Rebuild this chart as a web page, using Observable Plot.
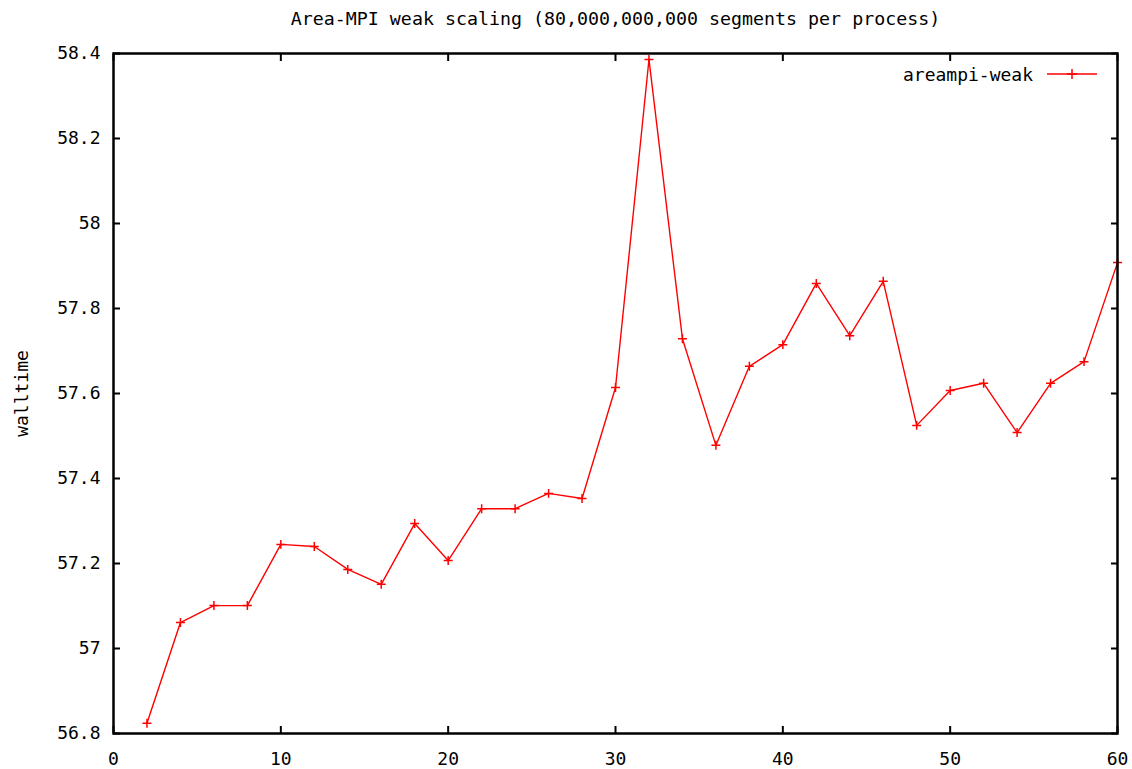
<!DOCTYPE html>
<html><head><meta charset="utf-8">
<script src="https://cdn.jsdelivr.net/npm/d3@7"></script>
<script src="https://cdn.jsdelivr.net/npm/@observablehq/plot@0.6"></script>
<style>body{margin:0;background:#fff}</style>
</head><body><div id="chart"></div>
<script>
const processes = [2,4,6,8,10,12,14,16,18,20,22,24,26,28,30,32,34,36,38,40,42,44,46,48,50,52,54,56,58,60];
const walltime = [56.824,57.061,57.101,57.101,57.245,57.240,57.186,57.151,57.294,57.207,57.329,57.329,57.365,57.353,57.614,58.386,57.729,57.478,57.664,57.715,57.859,57.736,57.864,57.525,57.607,57.624,57.508,57.624,57.675,57.908];
const xTicks = [0,10,20,30,40,50,60];
const yTicks = [56.8,57,57.2,57.4,57.6,57.8,58,58.2,58.4];
const titleText = "Area-MPI weak scaling (80,000,000,000 segments per process)";
const seriesName = "areampi-weak";
const yLabel = "walltime";
const data = processes.map((p, i) => ({p, t: walltime[i]}));

const font = "'DejaVu Sans Mono', monospace";
const red = "#ff0000";
const fmt = d => String(+d.toFixed(1));

const chart = Plot.plot({
  width: 1132, height: 769,
  marginLeft: 113, marginRight: 15, marginTop: 53, marginBottom: 36,
  style: {fontFamily: font, fontSize: "18px", background: "#fff", color: "#000"},
  x: {domain: [0, 60]},
  y: {domain: [56.8, 58.4]},
  marks: [
    Plot.axisX({ticks: xTicks, anchor: "bottom", tickSize: -7, tickPadding: 26, strokeWidth: 2, label: null, fontSize: 18, tickFormat: fmt}),
    Plot.axisX({ticks: xTicks, anchor: "top", tickSize: -7, tickFormat: () => "", strokeWidth: 2, label: null}),
    Plot.axisY({ticks: yTicks, anchor: "left", tickSize: -7, tickPadding: 20, strokeWidth: 2, label: null, fontSize: 18, tickFormat: fmt}),
    Plot.axisY({ticks: yTicks, anchor: "right", tickSize: -7, tickFormat: () => "", strokeWidth: 2, label: null}),
    Plot.line(data, {x: "p", y: "t", stroke: red, strokeWidth: 1.4}),
    Plot.dot(data, {x: "p", y: "t", symbol: "plus", r: 3, stroke: red, strokeWidth: 1.5}),
    Plot.frame({stroke: "#000", strokeWidth: 2.5}),
    Plot.text([titleText], {frameAnchor: "top", dy: -42, fontSize: 18.3, fill: "#000"}),
    Plot.text([yLabel], {frameAnchor: "left", textAnchor: "middle", dx: -91, rotate: -90, fontSize: 18, fill: "#000"})
  ]
});
document.getElementById("chart").append(chart);

// legend (gnuplot style, inside top-right of the frame)
const svg = d3.select(chart);
const lg = svg.append("g").attr("font-family", font).attr("font-size", 18);
lg.append("text").attr("x", 1033).attr("y", 74).attr("text-anchor", "end")
  .attr("dominant-baseline", "central").attr("fill", "#000").text(seriesName);
lg.append("line").attr("x1", 1047).attr("x2", 1097).attr("y1", 74).attr("y2", 74)
  .attr("stroke", red).attr("stroke-width", 1.4);
lg.append("path").attr("d", "M1067,74H1077M1072,69V79").attr("stroke", red).attr("stroke-width", 1.5);
</script>
</body></html>
